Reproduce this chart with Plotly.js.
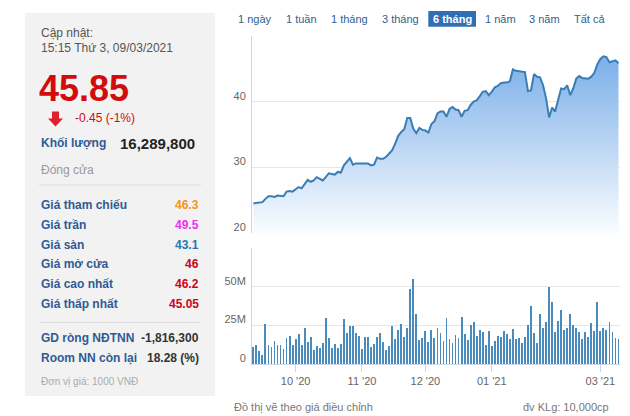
<!DOCTYPE html>
<html>
<head>
<meta charset="utf-8">
<script src="https://cdn.plot.ly/plotly-3.0.1.min.js"></script>
<style>
html,body{margin:0;padding:0;background:#fff;}
#chart{width:630px;height:416px;}
</style>
</head>
<body>
<div id="chart"></div>
<script>
// ---- Data ----
// Daily close (adjusted), 1000 VND, trading days Sep 2020 – 09/03/2021
const closePrice = [
  24.5,24.6,24.7,24.7,25.2,25.6,25.6,25.5,25.7,25.6,
  25.6,26.3,26.4,26.3,26.6,27.0,26.8,27.5,28.1,27.8,
  28.0,28.5,28.3,28.0,28.5,29.1,29.0,28.9,29.3,29.2,
  30.3,30.8,31.4,30.4,30.6,30.6,30.6,30.6,30.6,30.3,
  30.4,31.5,31.3,31.3,31.6,32.1,32.6,33.6,34.8,35.4,
  35.8,37.5,37.5,35.9,35.2,36.0,35.7,35.6,35.3,36.6,
  37.0,38.2,38.5,38.5,37.7,38.9,39.2,38.8,38.7,37.7,
  38.6,38.7,39.5,40.0,40.2,40.8,41.5,41.6,41.0,41.5,
  42.2,42.4,42.8,42.9,42.9,43.1,44.9,44.7,44.6,44.6,
  44.5,41.6,41.7,44.2,43.8,43.7,42.5,40.5,37.6,39.1,
  38.5,40.3,42.0,41.9,42.5,41.0,42.0,43.5,43.9,43.6,
  43.5,43.5,43.8,44.4,45.7,46.5,46.9,46.8,46.0,46.1,
  46.3,45.85
];
// Daily volume, millions of shares
const volumeM = [
  10.9,12.2,8.3,5.9,26,12,10.9,14.6,12.2,12.2,
  9.8,16.7,18,12.2,16.3,19.3,12,23,14.1,17.4,
  9.1,11.5,10.4,13.9,29.6,17,10.4,12.8,10.4,12.8,
  29.1,20,24.8,24.8,20,18,9.8,17.2,17.4,11.1,
  12.8,17.6,19.8,14.1,9.1,11.5,24.8,15.9,21.7,26,
  17.6,23,48.3,55.2,32.6,15.2,17,21.3,14.1,21.7,
  17,23.5,20,14.6,29.6,16.3,13.9,18.7,17,30.2,
  19.3,15.2,25.2,27.2,18,21.7,20.7,12.6,21.1,11.5,
  15,18,17.6,21.3,19.3,16.3,22.4,15.9,17,13.9,
  17.6,25.4,37.6,20,13.9,32.6,23.5,27.4,49.6,40,
  20.7,28,34.6,21.7,23,32.2,25.4,23.5,20.7,16.3,
  20.7,17.6,26.7,21.3,40.4,21.3,23,21.7,27.4,20.7,
  17,16.29
];
const monthLabels = ["10 '20", "11 '20", "12 '20", "01 '21", "03 '21"];
const monthStartDay = [14, 36, 57, 79, 115];
const priceTicks = [20, 30, 40, 50];
const priceTickText = ["20", "30", "40", ""];
const volTicks = [0, 25, 50, 75];
const volTickText = ["0", "25M", "50M", ""];
const rangeButtons = ["1 ngày", "1 tuần", "1 tháng", "3 tháng", "6 tháng", "1 năm", "3 năm", "Tất cả"];
const selectedButton = "6 tháng";

const updateLabel = "Cập nhật:";
const updateTime = "15:15 Thứ 3, 09/03/2021";
const lastPrice = "45.85";
const change = "-0.45 (-1%)";
const volumeLabel = "Khối lượng";
const volumeValue = "16,289,800";
const statusText = "Đóng cửa";
const priceRowLabels = ["Giá tham chiếu", "Giá trần", "Giá sàn", "Giá mở cửa", "Giá cao nhất", "Giá thấp nhất"];
const priceRowValues = ["46.3", "49.5", "43.1", "46", "46.2", "45.05"];
const foreignLabels = ["GD ròng NĐTNN", "Room NN còn lại"];
const foreignValues = ["-1,816,300", "18.28 (%)"];
const unitNote = "Đơn vị giá: 1000 VNĐ";
const adjNote = "Đồ thị vẽ theo giá điều chỉnh";
const volUnitNote = "đv KLg: 10,000cp";

// ---- Styles / layout helpers ----
const W = 630, H = 416;
const px = x => x / W;
const py = y => 1 - y / H;
const FONT = "Liberation Sans, Arial, sans-serif";
const dayIdx = closePrice.map((_, i) => i);

const rowColors = ["#f7941d", "#f02ff0", "#1f78b8", "#d0021b", "#d0021b", "#d0021b"];
const labelBlue = "#2f5b94";

const ann = [];
function txt(x, y, text, opts) {
  opts = opts || {};
  ann.push({
    xref: "paper", yref: "paper", x: px(x), y: py(y), text: text, showarrow: false,
    xanchor: opts.xa || "left", yanchor: "middle",
    font: {family: FONT, size: opts.size || 12, color: opts.color || "#333", weight: opts.weight || "normal"}
  });
}

// left panel texts
txt(39, 33, updateLabel, {color: "#555"});
txt(39, 48, updateTime, {color: "#555"});
txt(37, 88, lastPrice, {size: 36, weight: "bold", color: "#d40b0b"});
txt(73, 118, change, {color: "#d40b0b"});
txt(39, 143, volumeLabel, {weight: "bold", color: labelBlue});
txt(118, 143, volumeValue, {size: 15, weight: "bold", color: "#222"});
txt(39, 169.5, statusText, {color: "#999"});
const rowY = [205, 225, 244.5, 264, 283.5, 303.5];
priceRowLabels.forEach((l, i) => {
  txt(39, rowY[i], l, {weight: "bold", color: labelBlue});
  txt(201, rowY[i], priceRowValues[i], {weight: "bold", color: rowColors[i], xa: "right"});
});
const fY = [337.5, 357.5];
foreignLabels.forEach((l, i) => {
  txt(39, fY[i], l, {weight: "bold", color: labelBlue});
  txt(201, fY[i], foreignValues[i], {weight: "bold", color: "#333", xa: "right"});
});
txt(39, 381, unitNote, {size: 10, color: "#aaa"});

// range selector buttons
const btnX = [254.7, 301, 349, 400.7, 452, 500, 544.7, 589];
rangeButtons.forEach((b, i) => {
  const sel = b === selectedButton;
  txt(btnX[i], 19, b, {xa: "center", size: 11, weight: sel ? "bold" : "normal", color: sel ? "#ffffff" : "#2f5f8f"});
});

// bottom notes
txt(232, 406.5, adjNote, {size: 11, color: "#777"});
txt(611, 406.5, volUnitNote, {size: 11, color: "#777", xa: "right"});

const shapes = [
  {type: "rect", xref: "paper", yref: "paper", x0: px(25), x1: px(215), y0: py(396), y1: py(13),
   fillcolor: "#f2f2f2", line: {width: 0}, layer: "below"},
  {type: "line", xref: "paper", yref: "paper", x0: px(39), x1: px(201), y0: py(185), y1: py(185),
   line: {color: "#dddddd", width: 1}},
  {type: "line", xref: "paper", yref: "paper", x0: px(39), x1: px(201), y0: py(322.5), y1: py(322.5),
   line: {color: "#dddddd", width: 1}},
  {type: "rect", xref: "paper", yref: "paper", x0: px(428.3), x1: px(476), y0: py(26.7), y1: py(11),
   fillcolor: "#2f6fb5", line: {width: 0}, layer: "below"},
  // down arrow
  {type: "path", xref: "paper", yref: "paper",
   path: "M" + px(52) + "," + py(111.5) + " L" + px(59) + "," + py(111.5) + " L" + px(59) + "," + py(118.5) +
         " L" + px(63) + "," + py(118.5) + " L" + px(55.5) + "," + py(126.5) + " L" + px(48) + "," + py(118.5) +
         " L" + px(52) + "," + py(118.5) + " Z",
   fillcolor: "#d9232e", line: {width: 0}}
];

const traces = [
  {
    type: "scatter", mode: "lines", x: dayIdx, y: closePrice, xaxis: "x2", yaxis: "y",
    line: {color: "#3a7db5", width: 2},
    fill: "tozeroy",
    fillgradient: {type: "vertical", start: 20, stop: 48,
      colorscale: [[0, "rgba(250,252,255,1)"], [1, "rgba(118,172,232,1)"]]},
    hoverinfo: "skip"
  },
  {
    type: "bar", x: dayIdx, y: volumeM, xaxis: "x", yaxis: "y2",
    width: 0.62, marker: {color: "#4a8bbd", line: {width: 0}},
    hoverinfo: "skip"
  }
];

const xDomain = [px(252), px(620)];
const xRange = [-0.45, 121.5];
const tickFont = {family: FONT, size: 11, color: "#666"};

const layout = {
  width: W, height: H, autosize: false,
  margin: {l: 0, r: 0, t: 0, b: 0, pad: 0},
  paper_bgcolor: "#ffffff", plot_bgcolor: "rgba(0,0,0,0)",
  showlegend: false,
  bargap: 0,
  xaxis: {
    domain: xDomain, anchor: "y2", range: xRange,
    tickmode: "array", tickvals: monthStartDay, ticktext: monthLabels,
    ticks: "outside", ticklen: 7, tickcolor: "#ccd6eb", tickwidth: 1,
    showline: true, linecolor: "#ccd6eb", linewidth: 1,
    showgrid: false, zeroline: false, tickfont: tickFont, fixedrange: true
  },
  xaxis2: {
    domain: xDomain, anchor: "y", range: xRange, matches: "x",
    showticklabels: false, ticks: "", showline: false, showgrid: false, zeroline: false, fixedrange: true
  },
  yaxis: {
    domain: [py(233), py(36)], range: [20, 50],
    tickmode: "array", tickvals: priceTicks, ticktext: priceTickText,
    showgrid: true, gridcolor: "#e6e6e6", gridwidth: 1,
    showline: true, linecolor: "#ccd6eb", linewidth: 1,
    ticks: "", ticklabelshift: -6, ticklabelstandoff: 3, zeroline: false,
    tickfont: tickFont, fixedrange: true
  },
  yaxis2: {
    domain: [py(364), py(248)], range: [0, 75],
    tickmode: "array", tickvals: volTicks, ticktext: volTickText,
    showgrid: true, gridcolor: "#e6e6e6", gridwidth: 1,
    showline: true, linecolor: "#ccd6eb", linewidth: 1,
    ticks: "", ticklabelshift: -6, ticklabelstandoff: 3, zeroline: false,
    tickfont: tickFont, fixedrange: true
  },
  annotations: ann,
  shapes: shapes
};

Plotly.newPlot("chart", traces, layout, {displayModeBar: false, staticPlot: true});
</script>
</body>
</html>
